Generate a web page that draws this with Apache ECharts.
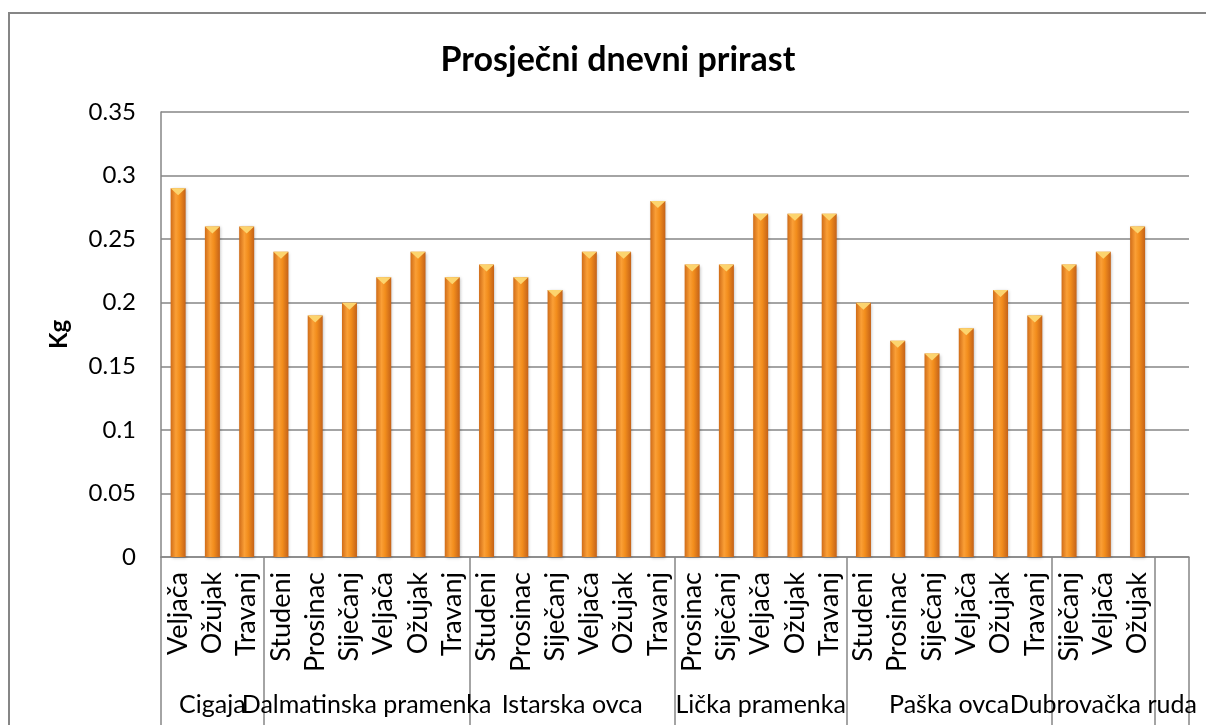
<!DOCTYPE html>
<html>
<head>
<meta charset="utf-8">
<script src="https://cdn.jsdelivr.net/npm/echarts@6/dist/echarts.min.js"></script>
<style>
html,body{margin:0;padding:0;background:#fff;}
#c{width:1206px;height:725px;}
</style>
</head>
<body>
<div id="c"></div>
<script>
// ---- data ----
var groupNames = ['Cigaja', 'Dalmatinska pramenka', 'Istarska ovca', 'Lička pramenka', 'Paška ovca', 'Dubrovačka ruda'];
var cigajaMonths = ['Veljača', 'Ožujak', 'Travanj'];
var cigajaValues = [0.29, 0.26, 0.26];
var dalmatinskaMonths = ['Studeni', 'Prosinac', 'Siječanj', 'Veljača', 'Ožujak', 'Travanj'];
var dalmatinskaValues = [0.24, 0.19, 0.20, 0.22, 0.24, 0.22];
var istarskaMonths = ['Studeni', 'Prosinac', 'Siječanj', 'Veljača', 'Ožujak', 'Travanj'];
var istarskaValues = [0.23, 0.22, 0.21, 0.24, 0.24, 0.28];
var lickaMonths = ['Prosinac', 'Siječanj', 'Veljača', 'Ožujak', 'Travanj'];
var lickaValues = [0.23, 0.23, 0.27, 0.27, 0.27];
var paskaMonths = ['Studeni', 'Prosinac', 'Siječanj', 'Veljača', 'Ožujak', 'Travanj'];
var paskaValues = [0.20, 0.17, 0.16, 0.18, 0.21, 0.19];
var dubrovackaMonths = ['Siječanj', 'Veljača', 'Ožujak'];
var dubrovackaValues = [0.23, 0.24, 0.26];
var yTicks = [0, 0.05, 0.1, 0.15, 0.2, 0.25, 0.3, 0.35];

// ---- build ----
var groupMonths = [cigajaMonths, dalmatinskaMonths, istarskaMonths, lickaMonths, paskaMonths, dubrovackaMonths];
var groupValues = [cigajaValues, dalmatinskaValues, istarskaValues, lickaValues, paskaValues, dubrovackaValues];
var months = [], values = [];
var boundaries = [0];
groupMonths.forEach(function (m, gi) {
  m.forEach(function (name, i) { months.push(name); values.push(groupValues[gi][i]); });
  boundaries.push(months.length);
});
// one empty trailing category
months.push(''); values.push(null);
boundaries.push(months.length);
var nCat = months.length;
// half-step axis for group labels and separators
var halfCats = [];
for (var i = 0; i <= nCat * 2; i++) halfCats.push('');
var tickIdx = {};
boundaries.forEach(function (b) { tickIdx[b * 2] = true; });
var labelParity = {};
for (var g = 0; g < groupNames.length; g++) {
  var c = boundaries[g] + boundaries[g + 1];
  halfCats[c] = groupNames[g];
  labelParity[c] = g % 2;
}

var FONT = 'Lato, "Open Sans", sans-serif';
function groupAxis(parity, ticks) {
  return {
    type: 'category', data: halfCats, position: 'bottom', boundaryGap: false, offset: 0,
    axisLine: {show: false},
    axisTick: {show: ticks, length: 170, interval: function (idx) { return !!tickIdx[idx]; },
      lineStyle: {color: '#868686', width: 1.5}},
    axisLabel: {interval: function (idx, v) { return v !== '' && labelParity[idx] === parity; },
      margin: 135, hideOverlap: false,
      fontFamily: FONT, fontSize: 25, color: '#000'}
  };
}
var chart = echarts.init(document.getElementById('c'), null, {renderer: 'canvas'});
chart.setOption({
  animation: false,
  backgroundColor: '#fff',
  title: {
    text: 'Prosječni dnevni prirast',
    left: 613, top: 38, textAlign: 'center',
    textStyle: {fontFamily: FONT, fontSize: 34, fontWeight: 'bold', color: '#000'}
  },
  graphic: [{
    type: 'rect', shape: {x: 9, y: 13, width: 1250, height: 800},
    style: {fill: 'none', stroke: '#868686', lineWidth: 2}, silent: true, z: -1
  }],
  grid: {left: 161, right: 17, top: 112, bottom: 168, containLabel: false},
  xAxis: [{
    type: 'category', data: months, position: 'bottom',
    axisLine: {show: true, lineStyle: {color: '#868686', width: 1.5}},
    axisTick: {show: false},
    axisLabel: {interval: 0, rotate: 90, margin: 15, fontFamily: FONT, fontSize: 27, color: '#000'}
  }, groupAxis(0, true), groupAxis(1, false)],
  yAxis: {
    type: 'value', min: 0, max: 0.35, interval: 0.05,
    name: 'Kg', nameLocation: 'middle', nameGap: 90,
    nameTextStyle: {fontFamily: FONT, fontSize: 24, fontWeight: 'bold', color: '#000'},
    axisLine: {show: true, lineStyle: {color: '#868686', width: 1.5}},
    axisTick: {show: false},
    axisLabel: {margin: 25, fontFamily: FONT, fontSize: 24, color: '#000',
      formatter: function (v) { var t = yTicks.filter(function (x) { return Math.abs(x - v) < 1e-9; }); return t.length ? String(t[0]) : ''; }},
    splitLine: {show: true, lineStyle: {color: '#868686', width: 1.5}}
  },
  series: [{
    type: 'bar', data: values, xAxisIndex: 0, barWidth: 15, barGap: '-100%',
    itemStyle: {
      color: new echarts.graphic.LinearGradient(0, 0, 1, 0, [
        {offset: 0, color: '#d06c18'},
        {offset: 0.35, color: '#fa9f36'},
        {offset: 0.6, color: '#f28d1c'},
        {offset: 1, color: '#c46218'}
      ]),
      shadowColor: 'rgba(0,0,0,0.25)', shadowBlur: 3, shadowOffsetX: 1, shadowOffsetY: 1
    }
  }, {
    type: 'pictorialBar', data: values, xAxisIndex: 0, barGap: '-100%',
    symbol: 'triangle', symbolRotate: 180, symbolSize: [15, 7], symbolPosition: 'end',
    itemStyle: {color: '#fcd46e'}, z: 3
  }]
});
</script>
</body>
</html>
